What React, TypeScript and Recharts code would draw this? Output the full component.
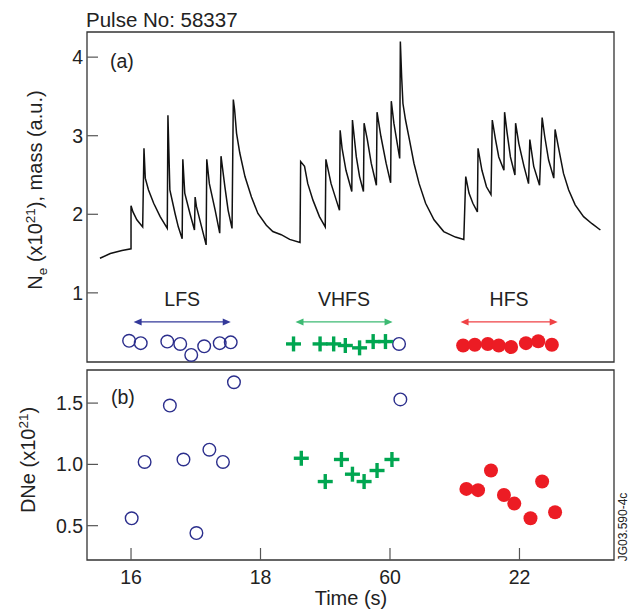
import React from "react";
import {
  ComposedChart,
  Line,
  Scatter,
  XAxis,
  YAxis,
  ReferenceLine,
  ReferenceArea,
} from "recharts";

const FONT = "'Liberation Sans', Arial, Helvetica, sans-serif";

const X_DOMAIN: [number, number] = [15.32, 23.46];
const TOP_Y_DOMAIN: [number, number] = [0.12, 4.32];
const BOT_Y_DOMAIN: [number, number] = [0.22, 1.77];

const xTicks = [16, 18, 20, 22];
const xTickLabels = ["16", "18", "60", "22"];
const topYTicks = [1, 2, 3, 4];
const topYTickLabels = ["1", "2", "3", "4"];
const botYTicks = [0.5, 1.0, 1.5];
const botYTickLabels = ["0.5", "1.0", "1.5"];

// (a) density / mass trace
const traceTime = [
  15.52, 15.68, 15.86, 16.0, 16.0, 16.03, 16.09, 16.18, 16.2, 16.22,
  16.27, 16.35, 16.45, 16.56, 16.57, 16.6, 16.68, 16.73, 16.79, 16.8,
  16.83, 16.91, 16.98, 16.99, 17.01, 17.09, 17.16, 17.17, 17.21, 17.3,
  17.37, 17.39, 17.45, 17.5, 17.56, 17.58, 17.6, 17.63, 17.68, 17.76,
  17.86, 17.96, 18.09, 18.19, 18.32, 18.45, 18.61, 18.62, 18.68, 18.73,
  18.81, 18.91, 19.0, 19.01, 19.09, 19.17, 19.22, 19.23, 19.26, 19.32,
  19.41, 19.42, 19.48, 19.53, 19.59, 19.6, 19.65, 19.71, 19.79, 19.8,
  19.86, 19.94, 20.01, 20.02, 20.06, 20.12, 20.15, 20.16, 20.18, 20.2,
  20.24, 20.3, 20.37, 20.45, 20.55, 20.68, 20.83, 21.01, 21.14, 21.17,
  21.22, 21.28, 21.35, 21.36, 21.42, 21.49, 21.56, 21.58, 21.63, 21.68,
  21.76, 21.77, 21.81, 21.86, 21.93, 21.94, 21.99, 22.07, 22.14, 22.16,
  22.22, 22.31, 22.35, 22.39, 22.45, 22.53, 22.55, 22.6, 22.68, 22.76,
  22.86, 22.99, 23.12, 23.25,
];
const traceNe = [
  1.44, 1.5, 1.54, 1.56, 2.11, 2.03, 1.93, 1.84, 2.84, 2.46,
  2.31, 2.14, 1.97, 1.82, 3.26, 2.31, 2.01, 1.84, 1.69, 2.7,
  2.27, 2.01, 1.8, 2.22, 2.1, 1.84, 1.61, 2.7, 2.39, 2.05,
  1.76, 2.74, 2.35, 2.05, 1.82, 3.46, 3.33, 3.03, 2.78, 2.48,
  2.22, 2.01, 1.86, 1.78, 1.74, 1.68, 1.64, 2.67, 2.61, 2.39,
  2.18, 1.97, 1.84, 2.7, 2.39, 2.18, 2.05, 3.07, 2.84, 2.56,
  2.29, 3.2, 2.73, 2.48, 2.29, 3.16, 2.95, 2.65, 2.37, 3.3,
  2.99, 2.65, 2.4, 3.44, 3.16, 2.86, 2.71, 4.2, 3.75, 3.41,
  3.2, 2.95, 2.65, 2.39, 2.14, 1.93, 1.78, 1.71, 1.68, 2.48,
  2.27, 2.14, 2.03, 2.84, 2.56, 2.35, 2.25, 3.2, 2.95, 2.73,
  2.56, 3.3, 3.03, 2.73, 2.5, 3.16, 2.9, 2.61, 2.39, 2.95,
  2.61, 2.37, 3.23, 2.99, 2.69, 2.46, 3.08, 2.86, 2.52, 2.31,
  2.12, 1.97, 1.88, 1.8,
];

// (a) pellet mass markers
const lfsMassTime = [15.97, 16.15, 16.56, 16.76, 16.93, 17.13, 17.37, 17.54, 20.14];
const lfsMass = [0.39, 0.36, 0.38, 0.35, 0.21, 0.32, 0.36, 0.37, 0.35];
const vhfsMassTime = [18.51, 18.92, 19.13, 19.31, 19.53, 19.74, 19.93];
const vhfsMass = [0.35, 0.35, 0.35, 0.33, 0.3, 0.38, 0.38];
const hfsMassTime = [21.13, 21.31, 21.51, 21.68, 21.87, 22.1, 22.29, 22.5];
const hfsMass = [0.33, 0.34, 0.35, 0.33, 0.31, 0.36, 0.385, 0.34];

// (a) injection groups
const groupNames = ["LFS", "VHFS", "HFS"];
const groupStart = [16.04, 18.54, 21.09];
const groupEnd = [17.54, 20.04, 22.59];
const ARROW_LEVEL = 0.63;

// (b) density increase per pellet
const lfsTime = [16.01, 16.21, 16.6, 16.81, 17.01, 17.21, 17.42, 17.59, 20.16];
const lfsDNe = [0.56, 1.02, 1.48, 1.04, 0.44, 1.12, 1.02, 1.67, 1.53];
const vhfsTime = [18.63, 19.0, 19.25, 19.42, 19.6, 19.8, 20.03];
const vhfsDNe = [1.05, 0.86, 1.04, 0.92, 0.86, 0.95, 1.04];
const hfsTime = [21.18, 21.36, 21.56, 21.76, 21.92, 22.17, 22.35, 22.55];
const hfsDNe = [0.8, 0.79, 0.95, 0.75, 0.68, 0.56, 0.86, 0.61];

const NAVY = "#2b2e8c";
const GREEN = "#00a651";
const RED = "#ec1c24";
const ARROW_COLORS = ["#33399a", "#3dba73", "#ef4144"];
const FRAME = "#333";

const zip = (t: number[], v: number[]) => t.map((x, i) => ({ t: x, v: v[i] }));

const traceData = zip(traceTime, traceNe);

const OpenCircle = (p: any) => (
  <circle cx={p.cx} cy={p.cy} r={6.3} fill="none" stroke={NAVY} strokeWidth={1.4} />
);
const Plus = (p: any) => (
  <g stroke={GREEN} strokeWidth={3.4}>
    <line x1={p.cx - 7.5} y1={p.cy} x2={p.cx + 7.5} y2={p.cy} />
    <line x1={p.cx} y1={p.cy - 7.5} x2={p.cx} y2={p.cy + 7.5} />
  </g>
);
const Dot = (p: any) => <circle cx={p.cx} cy={p.cy} r={7} fill={RED} />;

function makeYTick(ticks: number[], labels: string[]) {
  return (p: any) => {
    const label = labels[ticks.indexOf(p.payload.value)];
    return (
      <g>
        <line x1={p.x} y1={p.y} x2={p.x + 11} y2={p.y} stroke="#555" strokeWidth={1.2} />
        <text x={p.x - 4} y={p.y} dy="0.36em" textAnchor="end" fontSize={19.5} fill="#222" fontFamily={FONT}>
          {label}
        </text>
      </g>
    );
  };
}

const XTick = (p: any) => {
  const label = xTickLabels[xTicks.indexOf(p.payload.value)];
  return (
    <g>
      <line x1={p.x} y1={p.y} x2={p.x} y2={p.y - 12} stroke="#555" strokeWidth={1.2} />
      <text x={p.x} y={p.y + 24} textAnchor="middle" fontSize={19.5} fill="#222" fontFamily={FONT}>
        {label}
      </text>
    </g>
  );
};

function makeArrow(name: string, color: string) {
  return (p: any) => {
    const { x1, x2, y1 } = p;
    const y = y1;
    return (
      <g>
        <line x1={x1 + 5} y1={y} x2={x2 - 5} y2={y} stroke={color} strokeWidth={1.3} />
        <polygon points={`${x1},${y} ${x1 + 8},${y - 3.5} ${x1 + 8},${y + 3.5}`} fill={color} />
        <polygon points={`${x2},${y} ${x2 - 8},${y - 3.5} ${x2 - 8},${y + 3.5}`} fill={color} />
        <text x={(x1 + x2) / 2} y={y - 16} textAnchor="middle" fontSize={19.5} fill="#222" fontFamily={FONT}>
          {name}
        </text>
      </g>
    );
  };
}

export default function App() {
  return (
    <div style={{ position: "absolute", left: 0, top: 0, width: 634, height: 612, background: "#fff" }}>
      <div style={{ position: "absolute", left: 0, top: 0 }}>
        <ComposedChart width={634} height={366} margin={{ top: 32, right: 20, bottom: 4, left: 0 }}>
          <XAxis dataKey="t" type="number" domain={X_DOMAIN} allowDataOverflow hide />
          <YAxis
            dataKey="v"
            type="number"
            domain={TOP_Y_DOMAIN}
            allowDataOverflow
            ticks={topYTicks}
            width={87}
            axisLine={false}
            tickLine={false}
            tickSize={0}
            tickMargin={0}
            tick={makeYTick(topYTicks, topYTickLabels)}
          />
          <ReferenceArea
            x1={X_DOMAIN[0]}
            x2={X_DOMAIN[1]}
            y1={TOP_Y_DOMAIN[0]}
            y2={TOP_Y_DOMAIN[1]}
            fill="none"
            stroke={FRAME}
            strokeWidth={1.3}
          />
          {groupNames.map((name, i) => (
            <ReferenceLine
              key={name}
              segment={[
                { x: groupStart[i], y: ARROW_LEVEL },
                { x: groupEnd[i], y: ARROW_LEVEL },
              ]}
              stroke={ARROW_COLORS[i]}
              shape={makeArrow(name, ARROW_COLORS[i])}
            />
          ))}
          <Line
            data={traceData}
            dataKey="v"
            type="linear"
            stroke="#111"
            strokeWidth={1.5}
            dot={false}
            isAnimationActive={false}
          />
          <Scatter data={zip(lfsMassTime, lfsMass)} dataKey="v" shape={OpenCircle} isAnimationActive={false} />
          <Scatter data={zip(vhfsMassTime, vhfsMass)} dataKey="v" shape={Plus} isAnimationActive={false} />
          <Scatter data={zip(hfsMassTime, hfsMass)} dataKey="v" shape={Dot} isAnimationActive={false} />
        </ComposedChart>
      </div>

      <div style={{ position: "absolute", left: 0, top: 366 }}>
        <ComposedChart width={634} height={246} margin={{ top: 4, right: 20, bottom: 0, left: 0 }}>
          <XAxis
            dataKey="t"
            type="number"
            domain={X_DOMAIN}
            allowDataOverflow
            ticks={xTicks}
            height={52}
            axisLine={false}
            tickLine={false}
            tickSize={0}
            tickMargin={0}
            tick={XTick}
          />
          <YAxis
            dataKey="v"
            type="number"
            domain={BOT_Y_DOMAIN}
            allowDataOverflow
            ticks={botYTicks}
            width={87}
            axisLine={false}
            tickLine={false}
            tickSize={0}
            tickMargin={0}
            tick={makeYTick(botYTicks, botYTickLabels)}
          />
          <ReferenceArea
            x1={X_DOMAIN[0]}
            x2={X_DOMAIN[1]}
            y1={BOT_Y_DOMAIN[0]}
            y2={BOT_Y_DOMAIN[1]}
            fill="none"
            stroke={FRAME}
            strokeWidth={1.3}
          />
          <Scatter data={zip(lfsTime, lfsDNe)} dataKey="v" shape={OpenCircle} isAnimationActive={false} />
          <Scatter data={zip(vhfsTime, vhfsDNe)} dataKey="v" shape={Plus} isAnimationActive={false} />
          <Scatter data={zip(hfsTime, hfsDNe)} dataKey="v" shape={Dot} isAnimationActive={false} />
        </ComposedChart>
      </div>

      <svg
        width={634}
        height={612}
        style={{ position: "absolute", left: 0, top: 0, pointerEvents: "none" }}
        fontFamily={FONT}
        fill="#222"
      >
        <text x={86} y={26.5} fontSize={20.5}>Pulse No: 58337</text>
        <text x={110} y={68} fontSize={19.5}>(a)</text>
        <text x={111} y={404} fontSize={19.5}>(b)</text>
        <text transform="translate(42,190) rotate(-90)" textAnchor="middle" fontSize={20}>
          N<tspan dy={5} fontSize={13.5}>e</tspan>
          <tspan dy={-5}> (x10</tspan>
          <tspan dy={-7} fontSize={13.5}>21</tspan>
          <tspan dy={7}>), mass (a.u.)</tspan>
        </text>
        <text transform="translate(35,460) rotate(-90)" textAnchor="middle" fontSize={20}>
          DNe (x10<tspan dy={-7} fontSize={13.5}>21</tspan>
          <tspan dy={7}>)</tspan>
        </text>
        <text x={351} y={605} textAnchor="middle" fontSize={20}>Time (s)</text>
        <text transform="translate(627,527) rotate(-90)" textAnchor="middle" fontSize={12}>
          JG03.590-4c
        </text>
      </svg>
    </div>
  );
}
